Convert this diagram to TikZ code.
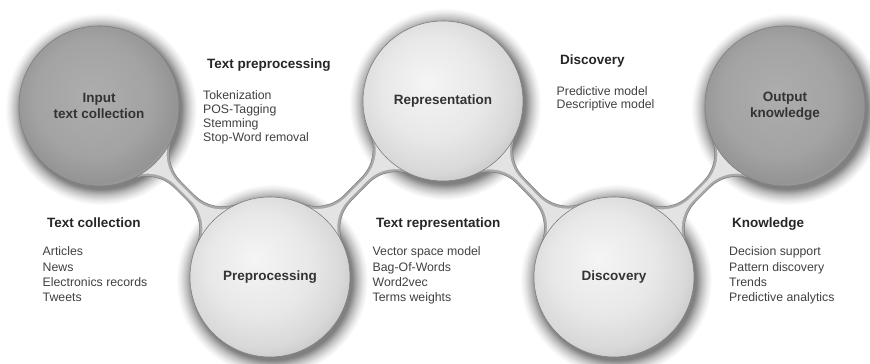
\documentclass[tikz,border=0pt]{standalone}
\usepackage{fontspec}
\setmainfont{Liberation Sans}
\usetikzlibrary{calc,backgrounds}

% shadings for the balls and their soft shadow
\pgfdeclareradialshading{ballLight}{\pgfpoint{-5bp}{6bp}}{color(0bp)=(black!4); color(16bp)=(black!9); color(25bp)=(black!15); color(31bp)=(black!24); color(50bp)=(black!24)}
\pgfdeclareradialshading{ballDark}{\pgfpoint{-3bp}{4bp}}{color(0bp)=(black!32); color(18bp)=(black!36); color(26bp)=(black!42); color(30bp)=(black!30); color(50bp)=(black!30)}
\pgfdeclareradialshading{halo}{\pgfpointorigin}{color(0bp)=(black!50); color(20.8bp)=(black!50); color(22.3bp)=(black!26); color(23.8bp)=(black!9); color(25bp)=(white); color(50bp)=(white)}

% neck between two balls: #1,#2 balls, #3 ball radius, #4 half width, #5 fillet radius, #6 options
\newcommand\neck[6]{%
  \path[#6] let \p1=(#1.center), \p2=(#2.center),
      \n1={veclen(\x2-\x1,\y2-\y1)},
      \n2={atan2(\y2-\y1,\x2-\x1)},
      \n3={10*sqrt(((#3+#5)/10)*((#3+#5)/10)-((#4+#5)/10)*((#4+#5)/10))},
      \n4={atan2(#4+#5,\n3)}
    in ($(\p1)+(\n2+\n4:#3)$) arc[start angle=\n2+\n4+180, end angle=\n2+270, radius=#5]
    -- ($(\p1)+(\n2:\n1-\n3)+(\n2+90:#4)$) arc[start angle=\n2+270, end angle=\n2+360-\n4, radius=#5]
    -- ($(\p2)+(\n2+180+\n4:#3)$) arc[start angle=\n2+\n4, end angle=\n2+90, radius=#5]
    -- ($(\p1)+(\n2:\n3)+(\n2-90:#4)$) arc[start angle=\n2+90, end angle=\n2+180-\n4, radius=#5]
    -- cycle;}

\begin{document}
\begin{tikzpicture}[x=1pt, y=1pt,
    ball/.style={circle, minimum size=160pt, inner sep=0pt, draw=black!50, line width=0.6pt,
      align=center, font=\fontsize{13.5}{16}\selectfont\bfseries, text=black!80},
    lightball/.style={ball, shade, shading=ballLight},
    darkball/.style={ball, shade, shading=ballDark},
    head/.style={anchor=base west, inner sep=0pt, font=\fontsize{13.5}{16}\selectfont\bfseries, text=black!85},
    entry/.style={anchor=base west, inner sep=0pt, font=\fontsize{12.3}{14}\selectfont, text=black!75}
  ]
  \useasboundingbox (0,0) rectangle (870,364);

  % balls
  \node[darkball] (inp) at (99,258) {Input\\text collection};
  \node[lightball] (pre) at (270,87) {Preprocessing};
  \node[lightball] (rep) at (443,263) {Representation};
  \node[lightball] (dis) at (614,87) {Discovery};
  \node[darkball] (out) at (785,258) {Output\\knowledge};

  \begin{scope}[on background layer]
    \foreach \b in {inp,pre,rep,dis,out}
      \shade[shading=halo] ($(\b.center)+(2,-3)$) circle[radius=96];
    \foreach \a/\b in {inp/pre, pre/rep, rep/dis, dis/out} {
      \neck{\a}{\b}{80}{4.5}{40}{fill=black!34, draw=black!52, line width=0.5pt}
      \neck{\a}{\b}{78}{2}{40}{fill=black!11}
    }
  \end{scope}

  % text blocks
  \node[head] (tp) at (207,295) {Text preprocessing};
  \foreach \t [count=\i] in {Tokenization, POS-Tagging, Stemming, Stop-Word removal}
    \node[entry] (tp-\i) at (203,279-14.2*\i) {\t};

  \node[head] (dc) at (560,299) {Discovery};
  \foreach \t [count=\i] in {Predictive model, Descriptive model}
    \node[entry] (dc-\i) at (556.5,281.3-13*\i) {\t};

  \node[head] (tc) at (47,136.5) {Text collection};
  \foreach \t [count=\i] in {Articles, News, Electronics records, Tweets}
    \node[entry] (tc-\i) at (42.5,123.3-15.3*\i) {\t};

  \node[head] (tr) at (376,136.5) {Text representation};
  \foreach \t [count=\i] in {Vector space model, Bag-Of-Words, Word2vec, Terms weights}
    \node[entry] (tr-\i) at (372.5,123.3-15.3*\i) {\t};

  \node[head] (kn) at (732,136.5) {Knowledge};
  \foreach \t [count=\i] in {Decision support, Pattern discovery, Trends, Predictive analytics}
    \node[entry] (kn-\i) at (729,123.3-15.3*\i) {\t};
\end{tikzpicture}
\end{document}
